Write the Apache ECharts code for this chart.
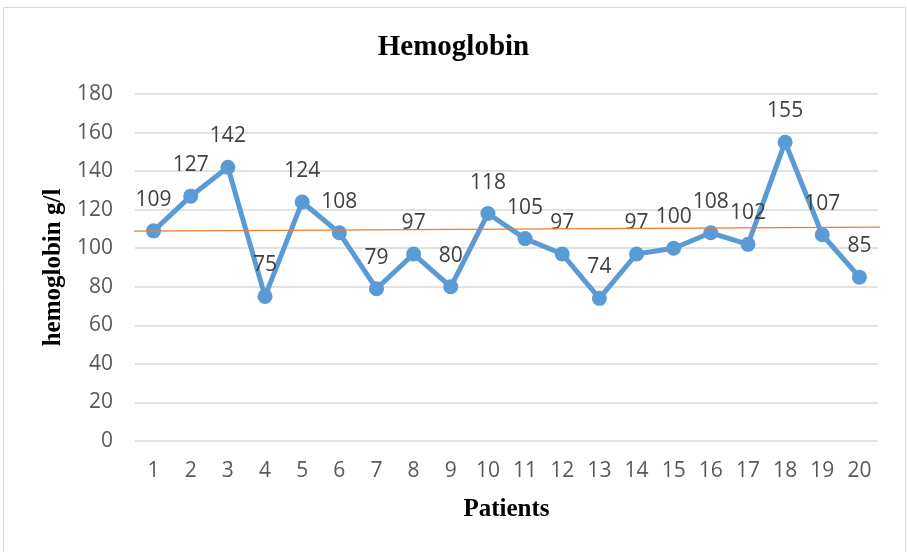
<!DOCTYPE html>
<html>
<head>
<meta charset="utf-8">
<script src="https://cdn.jsdelivr.net/npm/echarts@6/dist/echarts.min.js"></script>
<style>
  html, body { margin: 0; padding: 0; background: #fff; }
  #chart { width: 907px; height: 552px; }
</style>
</head>
<body>
<div id="chart"></div>
<script>
var patients = ['1','2','3','4','5','6','7','8','9','10','11','12','13','14','15','16','17','18','19','20'];
var hemoglobin = [109, 127, 142, 75, 124, 108, 79, 97, 80, 118, 105, 97, 74, 97, 100, 108, 102, 155, 107, 85];
var refLineX = [0.1, 20.55];
var refLineY = [108.8, 110.9];
var yTicks = { min: 0, max: 180, interval: 20 };

var chart = echarts.init(document.getElementById('chart'));

var option = {
  animation: false,
  title: {
    text: 'Hemoglobin',
    left: 'center',
    top: 28,
    textStyle: {
      fontFamily: 'Liberation Serif',
      fontWeight: 'bold',
      fontSize: 29,
      color: '#000'
    }
  },
  graphic: [{
    type: 'rect',
    shape: { x: 3.5, y: 7.5, width: 902, height: 600 },
    style: { fill: 'none', stroke: '#d9d9d9', lineWidth: 1 },
    silent: true
  }],
  grid: {
    left: 135,
    right: 29,
    top: 94,
    bottom: 111
  },
  xAxis: [{
    type: 'category',
    data: patients,
    boundaryGap: true,
    name: 'Patients',
    nameLocation: 'middle',
    nameGap: 56,
    nameTextStyle: {
      fontFamily: 'Liberation Serif',
      fontWeight: 'bold',
      fontSize: 25,
      color: '#000'
    },
    axisLine: { show: false },
    axisTick: { show: false },
    axisLabel: {
      color: '#595959',
      fontFamily: 'Open Sans',
      fontSize: 21,
      margin: 20,
      interval: 0
    }
  }, {
    type: 'value',
    min: 0.5,
    max: 20.5,
    show: false
  }],
  yAxis: {
    type: 'value',
    min: yTicks.min,
    max: yTicks.max,
    interval: yTicks.interval,
    name: 'hemoglobin g/l',
    nameLocation: 'middle',
    nameGap: 62,
    nameTextStyle: {
      fontFamily: 'Liberation Serif',
      fontWeight: 'bold',
      fontSize: 25,
      color: '#000'
    },
    axisLine: { show: false },
    axisTick: { show: false },
    axisLabel: {
      color: '#595959',
      fontFamily: 'Open Sans',
      fontSize: 21,
      margin: 22
    },
    splitLine: {
      lineStyle: { color: '#d9d9d9', width: 1.5 }
    }
  },
  series: [{
    name: 'Hemoglobin',
    type: 'line',
    data: hemoglobin,
    symbol: 'circle',
    symbolSize: 15,
    itemStyle: { color: '#5b9bd5' },
    lineStyle: { color: '#5b9bd5', width: 5 },
    label: {
      show: true,
      position: 'top',
      distance: 13,
      color: '#404040',
      fontFamily: 'Open Sans',
      fontSize: 21
    },
    z: 3
  }, {
    name: 'ref',
    type: 'line',
    xAxisIndex: 1,
    data: refLineX.map(function (x, i) { return [x, refLineY[i]]; }),
    symbol: 'none',
    clip: false,
    lineStyle: { color: '#ed7d31', width: 1.3 },
    z: 4
  }]
};

chart.setOption(option);
</script>
</body>
</html>
